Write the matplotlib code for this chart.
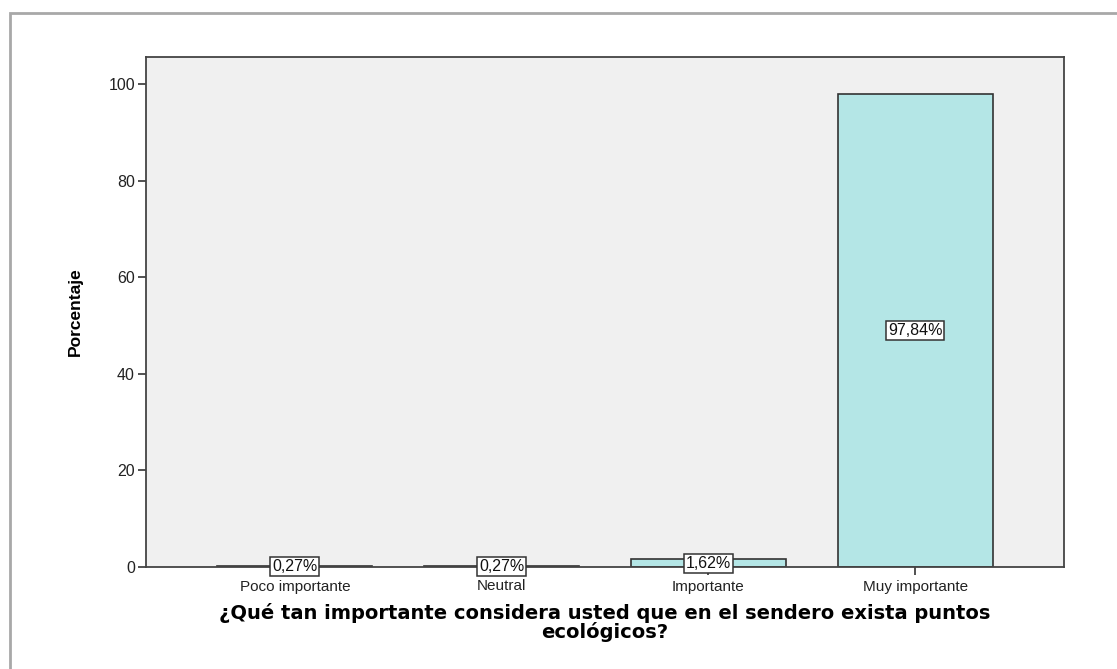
import matplotlib
matplotlib.use("Agg")
import matplotlib.pyplot as plt
from matplotlib.patches import Rectangle

categories = ["Poco importante", "Neutral", "Importante", "Muy importante"]
values = [0.27, 0.27, 1.62, 97.84]
labels = ["0,27%", "0,27%", "1,62%", "97,84%"]
yticks = [0, 20, 40, 60, 80, 100]

W, H = 1117, 669
fig = plt.figure(figsize=(W / 100, H / 100), dpi=100)
fig.patch.set_facecolor("white")

# outer frame
fig.patches.append(Rectangle((10 / W, -0.05), 1.2, 1 - 13 / H + 0.05, transform=fig.transFigure,
                             fill=False, edgecolor="#a8a8a8", linewidth=2.0, zorder=0))

ax = fig.add_axes([146 / W, 1 - 567 / H, (1064 - 146) / W, (567 - 57) / H])
ax.set_facecolor("#f0f0f0")
x = list(range(len(categories)))
ax.bar(x, values, width=0.75, color="#b4e6e6", edgecolor="#333333", linewidth=1.2, zorder=2)
ax.set_xlim(-0.72, 3.72)
ax.set_ylim(0, 105.6)
ax.set_yticks(yticks)
ax.set_yticklabels([str(t) for t in yticks], fontsize=11.5, family="Liberation Sans", color="#222222")
ax.set_xticks(x)
ax.set_xticklabels(categories, fontsize=11, family="Liberation Sans", color="#222222")
ax.tick_params(axis="y", length=6, width=1.2, color="#333333", pad=2)
ax.tick_params(axis="x", length=6, width=1.2, color="#333333", pad=3)
for s in ax.spines.values():
    s.set_color("#444444")
    s.set_linewidth(1.3)

for xi, v, lab in zip(x, values, labels):
    ax.text(xi, v / 2, lab, ha="center", va="center", fontsize=11.5, family="Liberation Sans",
            color="#111111", zorder=4,
            bbox=dict(boxstyle="square,pad=0.12", facecolor="white", edgecolor="#333333", linewidth=1.1))

ax.set_ylabel("Porcentaje", fontsize=12.5, fontweight="bold", family="Liberation Sans", labelpad=18)
ax.set_xlabel("¿Qué tan importante considera usted que en el sendero exista puntos\necológicos?",
              fontsize=14, fontweight="bold", family="DejaVu Sans", linespacing=0.95, labelpad=7)

fig.savefig("out.png", dpi=100)
